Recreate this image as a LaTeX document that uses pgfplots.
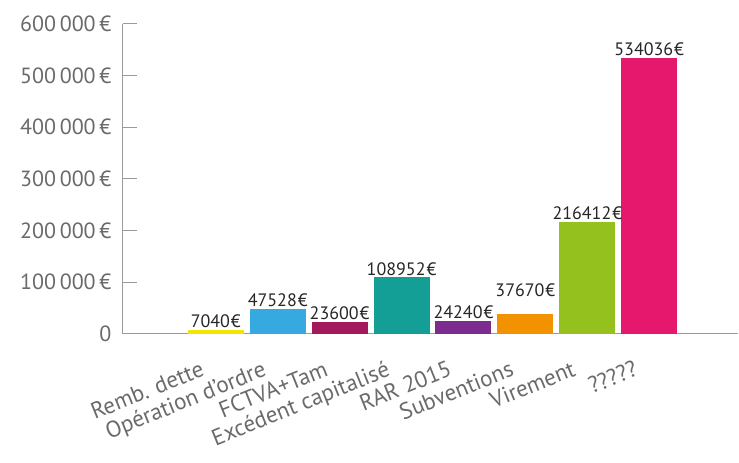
\documentclass[border=0pt]{standalone}
\usepackage{pgfplots}
\pgfplotsset{compat=1.18}
\usepackage{fontspec}
\setmainfont{PT Sans}
\definecolor{cYel}{HTML}{F2E500}
\definecolor{cBlue}{HTML}{36A9E1}
\definecolor{cCrim}{HTML}{A3195B}
\definecolor{cTeal}{HTML}{139F95}
\definecolor{cPurp}{HTML}{7B2C8E}
\definecolor{cOran}{HTML}{F39200}
\definecolor{cGreen}{HTML}{95C11F}
\definecolor{cPink}{HTML}{E6186E}
\definecolor{axgray}{HTML}{9A9A9A}
\definecolor{txgray}{HTML}{6A6A6A}
\pgfplotsset{common/.style={
  scale only axis,
  width=616pt, height=310pt,
  xmin=-1.5, xmax=8.44,
  ymin=0, ymax=600000,
  scaled y ticks=false,
  clip=false,
}}
\begin{document}
\begin{tikzpicture}
\begin{axis}[
  common,
  name=ax,
  axis lines*=left,
  axis line style={axgray, line width=1.2pt},
  ybar, bar width=56pt, bar shift=0pt,
  xtick={0,...,7},
  xmajorticks=false,
  ytick={0,100000,...,600000},
  yticklabels={0, 100\,000\,€, 200\,000\,€, 300\,000\,€, 400\,000\,€, 500\,000\,€, 600\,000\,€},
  y tick label style={font=\fontsize{22}{24}\selectfont, text=txgray, xshift=-8pt},
  tick style={axgray, line width=1pt},
  major tick length=14pt,
  ytick align=inside,
  every outer x axis line/.append style={-},
  every outer y axis line/.append style={-},
  separate axis lines,
  point meta=explicit symbolic,
  nodes near coords={\pgfplotspointmeta\kern1pt€},
  every node near coord/.append style={font=\fontsize{18}{20}\selectfont, text=black!85, inner sep=2pt},
]
\addplot[fill=cYel, draw=none] coordinates {(0,7040) [7040]};
\addplot[fill=cBlue, draw=none] coordinates {(1,47528) [47528]};
\addplot[fill=cCrim, draw=none] coordinates {(2,23600) [23600]};
\addplot[fill=cTeal, draw=none] coordinates {(3,108952) [108952]};
\addplot[fill=cPurp, draw=none] coordinates {(4,24240) [24240]};
\addplot[fill=cOran, draw=none, every node near coord/.append style={yshift=15pt}] coordinates {(5,37670) [37670]};
\addplot[fill=cGreen, draw=none] coordinates {(6,216412) [216412]};
\addplot[fill=cPink, draw=none] coordinates {(7,534036) [534036]};
\end{axis}
\begin{axis}[
  common,
  at={(ax.south west)}, anchor=south west,
  axis lines*=left,
  axis line style={draw=none},
  ytick=\empty,
  xtick={0,...,7},
  xticklabels={Remb. dette, Opération d'ordre, FCTVA+Tam, Excédent capitalisé, RAR 2015, Subventions, Virement, ?????},
  x tick label style={rotate=22, anchor=north east, font=\fontsize{23}{25}\selectfont, text=txgray, xshift=-24pt, yshift=-17pt, inner sep=1pt},
  major tick length=0pt,
  tick style={draw=none},
]
\end{axis}
\begin{axis}[
  scale only axis,
  width=14pt, height=310pt,
  at={(ax.south west)}, anchor=south west,
  xmin=0, xmax=1,
  ymin=0, ymax=600000,
  scaled y ticks=false,
  axis line style={draw=none},
  xtick=\empty,
  ytick={100000,200000,...,600000},
  yticklabels={,,,,,},
  major tick length=0pt,
  ymajorgrids=true,
  grid style={axgray, line width=1pt},
]
\end{axis}
\path (ax.south west) ++(-123pt,-129pt);
\path (ax.north east) ++(0pt,24pt);
\end{tikzpicture}
\end{document}
